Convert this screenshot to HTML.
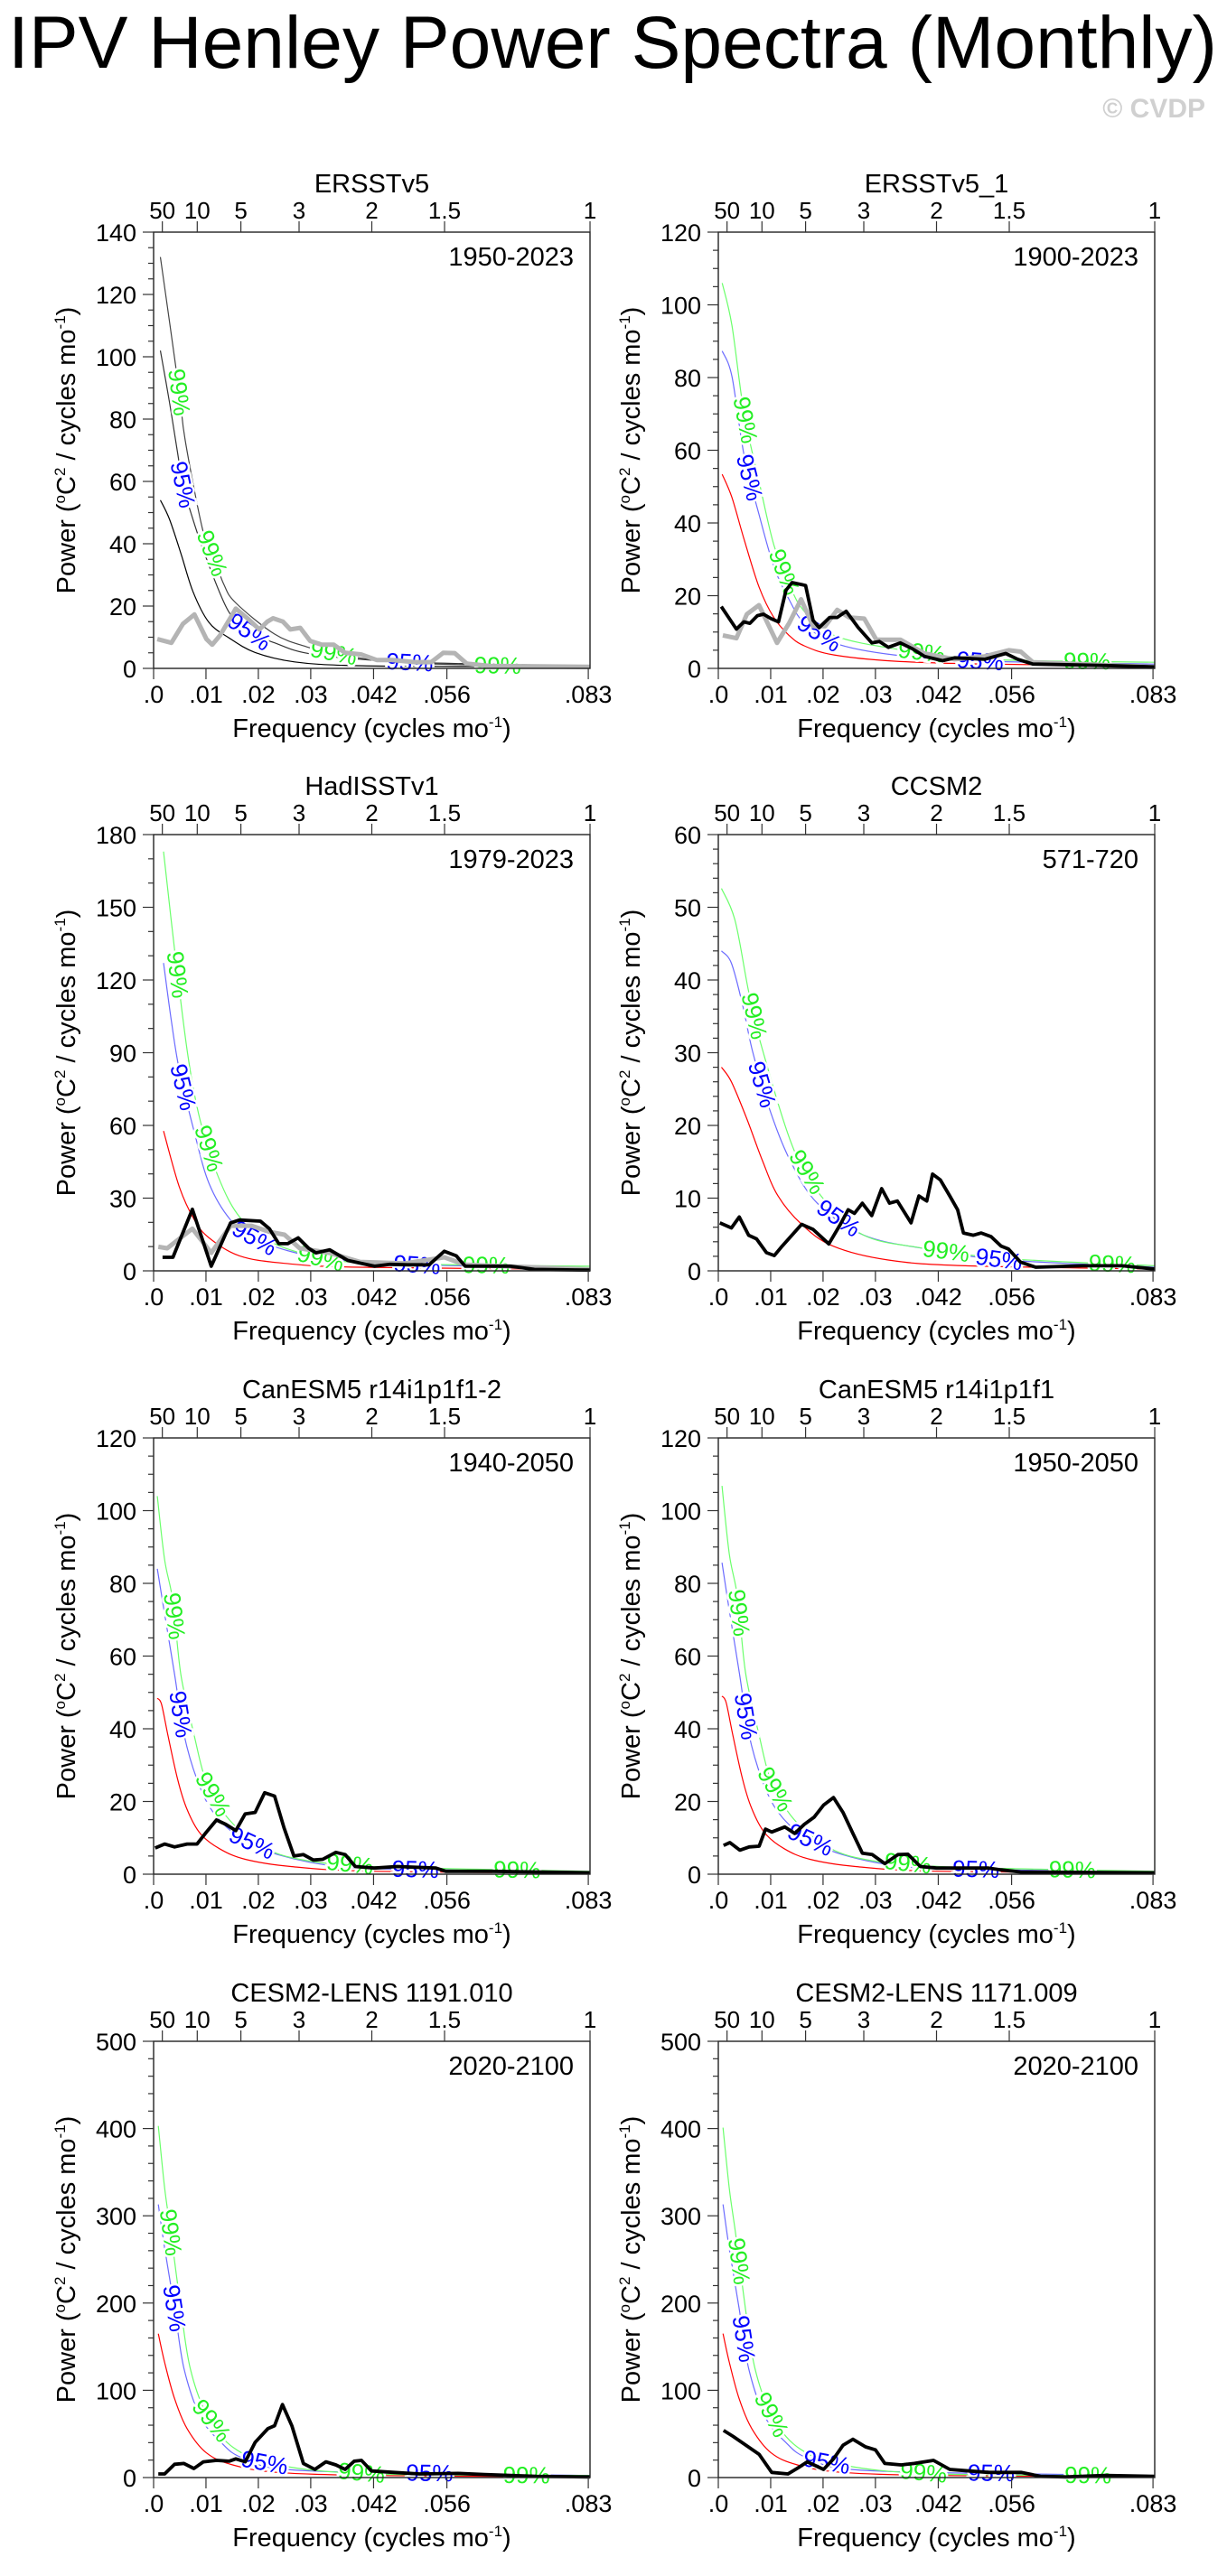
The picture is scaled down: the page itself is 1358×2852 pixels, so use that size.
<!DOCTYPE html>
<html><head><meta charset="utf-8">
<style>
html,body{margin:0;padding:0;background:#fff;}
svg{display:block;font-family:"Liberation Sans",Arial,sans-serif;}
</style></head>
<body>
<svg id="root" xmlns="http://www.w3.org/2000/svg" width="1358" height="2852" viewBox="0 0 1358 2852">
<rect x="0" y="0" width="1358" height="2852" fill="#fff"/>
<text x="9" y="75" font-size="82" textLength="1338" lengthAdjust="spacingAndGlyphs" fill="#000">IPV Henley Power Spectra (Monthly)</text>
<text x="1334" y="130" font-size="30" font-weight="bold" text-anchor="end" fill="#d0d0d0">© CVDP</text>
</svg>
<script>
// ===== Panel 1: ERSSTv5 =====
const p1RedF=[.0013,.003,.0052,.0075,.0105,.0142,.0194,.0269,.038,.06,.0833];
const p1RedV=[54,48,37,24.7,14.9,10,5.1,2.1,0.9,0.6,0.5];
const p1B95F=[.0013,.003,.0045,.0056,.0071,.0097,.0142,.0183,.0231,.0306,.0489,.0833];
const p1B95V=[102,85.7,70,59,50,37,18.6,11.8,8.2,4.5,2,0.8];
const p1B99F=[.0013,.0048,.006,.0093,.0112,.0134,.0157,.0231,.0291,.0344,.0456,.0657,.0833];
const p1B99V=[132,90,73.5,45,37,27,21,11,7,5,2,1,0.8];
const p1GrayF=[.0007,.0034,.0056,.0078,.0101,.0112,.0127,.0157,.0179,.0202,.0217,.0228,.0247,.0261,.028,.0299,.0321,.0344,.0366,.0396,.0426,.0456,.05,.053,.0553,.0575,.0598,.0642,.0833];
const p1GrayV=[9.4,8.2,14.3,17.3,9.4,7.6,10.6,19.2,16.1,12.5,15,16.1,15,12.5,13,8.8,7.6,7.6,5,4.5,2.7,2.7,2,2,5,4.9,1.5,0.8,0.5];
const p1LabF=[.0049,.0056,.0112,.0183,.0344,.0489,.0657];

// ===== Panel 2: ERSSTv5_1 =====
const p2CurF=[.00075,.0026,.0049,.0078,.0106,.0135,.0164,.0221,.0336,.0508,.0833];
const p2RedV=[53.4,47,35.6,22.3,14,9.1,6.2,3.7,2,1.2,0.7];
const p2B95V=[87.3,80.3,58.8,42.2,28.1,19,12.4,7,3.7,2,1.2];
const p2B99V=[106,94.3,70.3,51.3,34,23.2,15.7,9.1,5.4,2.5,1.7];
const p2BlackF=[.00057,.00345,.00489,.00603,.00747,.00862,.01006,.01149,.01293,.01408,.01667,.0181,.01925,.02126,.0227,.02442,.02672,.02931,.03075,.03247,.03477,.03707,.03937,.04282,.04511,.05086,.05488,.05718,.06006,.07385,.08333];
const p2BlackV=[17,10.8,12.8,12.4,14.5,14.9,13.7,12.8,21.5,23.6,22.8,13.2,11.2,14,14,15.7,11.2,7,7.4,5.8,7,5.4,3.3,2.1,2.9,2.5,4.1,2.5,1.2,0.8,0.4];
const p2GrayF=[.00086,.00345,.00546,.00776,.01121,.01351,.0158,.0181,.0204,.0227,.025,.02787,.03017,.03477,.03937,.04511,.05086,.05546,.05776,.06006,.08333];
const p2GrayV=[9.1,8.3,14.9,17.4,7,12.4,19,11.6,11.6,16.1,14,13.7,7.9,7.9,4.1,2.5,3.3,5,4.6,1.7,0.4];
const p2LabF=[.0052,.006,.0126,.0193,.0388,.05,.0704];

// ===== Panel 3: HadISSTv1 =====
const p3RedF=[.0019,.0049,.0078,.0106,.0164,.025,.0394,.0833];
const p3RedV=[57.7,34.7,21,13.6,6.2,3.1,1.5,0.6];
const p3B95F=[.0019,.0034,.0049,.0078,.0106,.0147,.0193,.025,.0336,.0509,.0833];
const p3B95V=[127,103,83,57,36,21,13.6,8.7,5,2.5,1.2];
const p3B99F=[.0019,.0042,.0066,.0089,.0124,.0164,.0221,.0279,.0336,.0509,.0833];
const p3B99V=[173,129,88,62,38.5,22.3,12.4,7.4,4.3,2.7,1.9];
const p3BlackF=[.0017,.0037,.0074,.011,.0147,.0164,.0204,.0221,.0239,.0256,.0276,.0296,.031,.0336,.0371,.0422,.0451,.0486,.0526,.0555,.0578,.0595,.0681,.0727,.0833];
const p3BlackV=[5.6,5.6,25.4,1.9,19.8,21,20.5,17.4,11.2,11.2,13.6,9.3,7.4,8.7,4.3,1.9,2.7,2.5,2.5,8.1,6.2,1.9,1.9,0.6,0.3];
const p3GrayF=[.0009,.0026,.0074,.011,.0147,.0187,.0221,.025,.0279,.0336,.0394,.0480,.0555,.0595,.0833];
const p3GrayV=[9.9,9.3,17.4,7.4,18.6,18.6,16.1,14.9,9.3,7.4,3.7,3.1,5.6,2.5,0.6];
const p3LabF=[.0046,.0057,.0106,.0193,.0319,.0503,.0635];

// ===== Panel 4: CCSM2 =====
const p4RedF=[.0006,.0025,.0054,.0084,.0114,.0159,.0219,.0323,.0472,.0833];
const p4RedV=[28,26,21,15.2,10.3,6.4,3.4,1.5,0.7,0.25];
const p4B95F=[.0006,.0025,.0047,.0066,.0099,.0137,.0189,.0278,.0398,.0547,.0833];
const p4B95V=[44,42.3,36.4,30,22,15.2,9.3,4.9,3,1.5,0.5];
const p4B99F=[.0006,.0032,.0058,.0084,.0144,.0204,.0278,.0383,.0547,.0833];
const p4B99V=[52.6,48.2,38.4,30.5,16.7,9.6,4.9,3.2,1.7,0.7];
const p4BlackF=[.0003,.0025,.004,.0058,.0073,.0092,.0107,.0122,.0159,.0181,.0211,.0233,.0248,.026,.0275,.0293,.0312,.0327,.0342,.0368,.0383,.0398,.0409,.0424,.0442,.0457,.0468,.0487,.0502,.0521,.054,.0554,.0577,.0606,.0696,.0771,.0833];
const p4BlackV=[6.6,5.9,7.4,4.9,4.4,2.5,2.1,3.4,6.4,5.7,3.7,6.4,8.4,7.9,9.3,7.6,11.3,9.3,9.6,6.6,10.3,9.6,13.3,12.5,10.3,8.4,5.2,4.9,5.2,4.7,3.4,3,1.2,0.5,0.7,0.7,0.25];
const p4LabF=[.0069,.0084,.017,.023,.0435,.0536,.0752];

// ===== Panel 5: CanESM5 r14i1p1f1-2 =====
const p5RedF=[.0007,.0015,.0027,.0046,.0064,.0089,.0126,.0175,.0262,.0422,.0833];
const p5RedV=[48.4,46.8,38.5,26,17.8,11.2,7,4.1,2.1,0.8,0.3];
const p5B95F=[.0007,.0021,.004,.0058,.0083,.0114,.0163,.0237,.036,.0546,.0833];
const p5B95V=[84,71.6,55,38.5,26,17,10.3,5.4,2,1.2,0.6];
const p5B99F=[.0007,.0021,.0037,.0052,.0077,.0101,.0138,.0188,.0262,.0422,.0833];
const p5B99V=[104,86.5,75,55,38.5,25.2,16.1,9.5,4.6,2.1,0.8];
const p5BlackF=[.0003,.0021,.004,.0064,.0083,.0101,.012,.0138,.0157,.0175,.0194,.0212,.0231,.0249,.0268,.0286,.0305,.0323,.0348,.0366,.0385,.0422,.0465,.0539,.0558,.0644,.0833];
const p5BlackV=[7.2,8.3,7.5,8.3,8.3,11.6,14.9,13.7,12,16.6,17,22.4,21.5,12.8,5,5.4,3.9,4.1,6,5.4,2.1,1.7,2.1,1.7,0.8,0.8,0.4];
const p5LabF=[.004,.0052,.0114,.0188,.0375,.05,.0694];

// ===== Panel 6: CanESM5 r14i1p1f1 =====
const p6RedF=[.0007,.0015,.0027,.0046,.0064,.0089,.0126,.0175,.0262,.0422,.0833];
const p6RedV=[49,47.2,38.8,26.3,18,11.3,7,4.1,2.1,0.8,0.3];
const p6B95F=[.0007,.0021,.004,.0058,.0083,.0114,.0163,.0237,.036,.0546,.0833];
const p6B95V=[85.7,72.5,55.5,38.8,26.2,17.1,10.4,5.4,2,1.2,0.6];
const p6B99F=[.0007,.0021,.0037,.0052,.0077,.0101,.0138,.0188,.0262,.0422,.0833];
const p6B99V=[106.8,88,76,55.5,38.8,25.4,16.2,9.5,4.6,2.1,0.8];
const p6BlackF=[.001,.0022,.0041,.0059,.0078,.009,.0102,.0127,.0146,.0164,.0183,.0201,.022,.0238,.0257,.0275,.0294,.0318,.0343,.0362,.0386,.0417,.0454,.0516,.054,.0578,.0833];
const p6BlackV=[7.9,8.7,6.6,7.5,7.7,12.4,11.6,13,11.2,13.7,15.7,19,21.1,17,11.2,5.8,5.4,2.9,5.4,5.5,2.1,1.7,1.7,1.7,1.2,0.6,0.4];
const p6LabF=[.004,.0053,.0109,.0176,.0362,.0492,.0676];

// ===== Panel 7: CESM2-LENS 1191.010 =====
const p7RedF=[.0009,.0021,.004,.0064,.0101,.0151,.0237,.0422,.0833];
const p7RedV=[164.8,132,90.5,56,28.3,14.5,5.9,2.4,0.7];
const p7B95F=[.0009,.0021,.004,.0058,.0089,.0126,.0175,.0299,.0833];
const p7B95V=[313,263,194,125,70,42,21.4,7.6,2.4];
const p7B99F=[.0009,.0021,.0033,.0052,.007,.0101,.0151,.0237,.0422,.0833];
const p7B99V=[403,332,281,194,125,73,35,14.5,4.1,2.4];
const p7BlackF=[.0009,.0021,.004,.0058,.0077,.0095,.012,.0144,.0157,.0175,.0194,.0218,.0231,.0246,.0264,.0286,.0308,.0329,.0348,.0366,.0383,.0397,.0416,.0459,.0508,.0582,.0632,.0731,.0833];
const p7BlackV=[4.1,4.1,15.2,16.2,10.4,18,19.7,18.7,21.4,18,40.4,56,59.4,83.6,59.4,16.2,9.3,18,14.5,9.3,18.7,19.7,7.6,5.9,4.1,4.8,3.5,1.4,0.7];
const p7LabF=[.0033,.004,.0111,.0212,.0397,.0527,.0712];

// ===== Panel 8: CESM2-LENS 1171.009 =====
const p8RedF=[.0009,.0021,.004,.0064,.0101,.0151,.0237,.0422,.0833];
const p8RedV=[165,132,90,56,28.3,14.5,5.9,2.4,0.7];
const p8B95F=[.0009,.0021,.004,.0058,.0089,.0126,.0175,.0299,.0833];
const p8B95V=[313,262,193,125,70,42,21.4,7.6,2.4];
const p8B99F=[.0009,.0021,.0033,.0052,.007,.0101,.0151,.0237,.0422,.0833];
const p8B99V=[401,331,280,193,125,73,35,14.5,4.1,2.4];
const p8BlackF=[.001,.0028,.0053,.0078,.0102,.0133,.0152,.017,.0201,.022,.0238,.0257,.0281,.03,.0318,.0349,.0374,.0411,.0442,.0479,.0516,.0553,.0578,.0615,.0664,.0738,.0833];
const p8BlackV=[54,47.3,37,26.6,5.9,4.1,11,18,9.3,21.4,37,43.9,35.2,31.8,16.2,14.5,16.2,19.7,9.3,7.6,5.9,5.9,5.9,1.4,0.7,2.4,1.4];
const p8LabF=[.004,.0049,.0102,.0207,.0392,.0521,.0706];

// Axis tick definitions
const bottomTickF=[0,.01,.02,.03,.042,.056,.083];
const bottomTickLab=[".0",".01",".02",".03",".042",".056",".083"];
const topPeriods=[50,10,5,3,2,1.5,1];
const topPeriodLab=["50","10","5","3","2","1.5","1"];
const labelLevels=["99%","95%","99%","95%","99%","95%","99%"];

const panels=[
 {id:"ersstv5",title:"ERSSTv5",years:"1950-2023",x0:170,y0:257,ymax:140,major:20,minor:5,
  red:[p1RedF,p1RedV],b95:[p1B95F,p1B95V],b99:[p1B99F,p1B99V],gray:[p1GrayF,p1GrayV],black:null,lab:p1LabF,mono:true},
 {id:"ersstv5-1",title:"ERSSTv5_1",years:"1900-2023",x0:795,y0:257,ymax:120,major:20,minor:5,
  red:[p2CurF,p2RedV],b95:[p2CurF,p2B95V],b99:[p2CurF,p2B99V],gray:[p2GrayF,p2GrayV],black:[p2BlackF,p2BlackV],lab:p2LabF},
 {id:"hadisstv1",title:"HadISSTv1",years:"1979-2023",x0:170,y0:924,ymax:180,major:30,minor:10,
  red:[p3RedF,p3RedV],b95:[p3B95F,p3B95V],b99:[p3B99F,p3B99V],gray:[p3GrayF,p3GrayV],black:[p3BlackF,p3BlackV],lab:p3LabF},
 {id:"ccsm2",title:"CCSM2",years:"571-720",x0:795,y0:924,ymax:60,major:10,minor:2,
  red:[p4RedF,p4RedV],b95:[p4B95F,p4B95V],b99:[p4B99F,p4B99V],gray:null,black:[p4BlackF,p4BlackV],lab:p4LabF},
 {id:"canesm5-r14-2",title:"CanESM5 r14i1p1f1-2",years:"1940-2050",x0:170,y0:1592,ymax:120,major:20,minor:5,
  red:[p5RedF,p5RedV],b95:[p5B95F,p5B95V],b99:[p5B99F,p5B99V],gray:null,black:[p5BlackF,p5BlackV],lab:p5LabF},
 {id:"canesm5-r14",title:"CanESM5 r14i1p1f1",years:"1950-2050",x0:795,y0:1592,ymax:120,major:20,minor:5,
  red:[p6RedF,p6RedV],b95:[p6B95F,p6B95V],b99:[p6B99F,p6B99V],gray:null,black:[p6BlackF,p6BlackV],lab:p6LabF},
 {id:"cesm2-lens-1191",title:"CESM2-LENS 1191.010",years:"2020-2100",x0:170,y0:2260,ymax:500,major:100,minor:20,
  red:[p7RedF,p7RedV],b95:[p7B95F,p7B95V],b99:[p7B99F,p7B99V],gray:null,black:[p7BlackF,p7BlackV],lab:p7LabF},
 {id:"cesm2-lens-1171",title:"CESM2-LENS 1171.009",years:"2020-2100",x0:795,y0:2260,ymax:500,major:100,minor:20,
  red:[p8RedF,p8RedV],b95:[p8B95F,p8B95V],b99:[p8B99F,p8B99V],gray:null,black:[p8BlackF,p8BlackV],lab:p8LabF}
];

const NS="http://www.w3.org/2000/svg";
const root=document.getElementById("root");
const W=483,H=483,FMAX=0.08333;
function mk(tag,parent){const e=document.createElementNS(NS,tag);parent.appendChild(e);return e;}
function interp(F,V,f){
  if(f<=F[0])return V[0];
  for(let i=1;i<F.length;i++){if(f<=F[i]){const t=(f-F[i-1])/(F[i]-F[i-1]);return V[i-1]+t*(V[i]-V[i-1]);}}
  return V[V.length-1];
}
function smoothPath(pts){
  let d="M"+pts[0][0].toFixed(1)+","+pts[0][1].toFixed(1);
  for(let i=0;i<pts.length-1;i++){
    const p0=pts[Math.max(0,i-1)],p1=pts[i],p2=pts[i+1],p3=pts[Math.min(pts.length-1,i+2)];
    const c1x=p1[0]+(p2[0]-p0[0])/6,c1y=p1[1]+(p2[1]-p0[1])/6;
    const c2x=p2[0]-(p3[0]-p1[0])/6,c2y=p2[1]-(p3[1]-p1[1])/6;
    d+=" C"+c1x.toFixed(1)+","+c1y.toFixed(1)+" "+c2x.toFixed(1)+","+c2y.toFixed(1)+" "+p2[0].toFixed(1)+","+p2[1].toFixed(1);
  }
  return d;
}

panels.forEach(p=>{
  const xs=f=>p.x0+f/FMAX*W;
  const ys=v=>p.y0+H-Math.min(v,p.ymax)/p.ymax*H;
  const g=mk("g",root);
  
  
  const cx=p.x0+W/2;

  const t=mk("text",g);
  
  
  t.setAttribute("x",cx);t.setAttribute("y",p.y0-44);t.setAttribute("font-size","29");t.setAttribute("text-anchor","middle");
  t.textContent=p.title;

  const yr=mk("text",g);
  
  
  yr.setAttribute("x",p.x0+W-18);yr.setAttribute("y",p.y0+37);yr.setAttribute("font-size","29");yr.setAttribute("text-anchor","end");
  yr.textContent=p.years;

  const curves=[[p.red,p.mono?"#000":"#ff0000","red-noise-curve"],[p.b95,p.mono?"#333":"#6b6bff","confidence-95-curve"],[p.b99,p.mono?"#444":"#6bff6b","confidence-99-curve"]];
  curves.forEach(c=>{
    const pts=c[0][0].map((f,i)=>[xs(f),ys(c[0][1][i])]);
    const pa=mk("path",g);
    
    
    pa.setAttribute("d",smoothPath(pts));pa.setAttribute("fill","none");pa.setAttribute("stroke",c[1]);pa.setAttribute("stroke-width","1.2");
  });

  p.lab.forEach((f,i)=>{
    const lvl=labelLevels[i];
    const cur=lvl==="99%"?p.b99:p.b95;
    const px=xs(f),py=ys(interp(cur[0],cur[1],f));
    const xa=xs(f-0.0006),ya=ys(interp(cur[0],cur[1],f-0.0006));
    const xb=xs(f+0.0006),yb=ys(interp(cur[0],cur[1],f+0.0006));
    const ang=Math.atan2(yb-ya,xb-xa)*180/Math.PI;
    const lt=mk("text",g);
    
    
    lt.setAttribute("x",px);lt.setAttribute("y",py+9);lt.setAttribute("font-size","26");lt.setAttribute("text-anchor","middle");
    lt.setAttribute("fill",lvl==="99%"?"#22ee22":"#0000ff");
    lt.setAttribute("stroke","#fff");lt.setAttribute("stroke-width","5");lt.setAttribute("paint-order","stroke");
    lt.setAttribute("transform","rotate("+ang.toFixed(1)+" "+px.toFixed(1)+" "+py.toFixed(1)+")");
    lt.textContent=lvl;
  });

  if(p.gray){
    const pl=mk("polyline",g);
    
    
    pl.setAttribute("points",p.gray[0].map((f,i)=>xs(f).toFixed(1)+","+ys(p.gray[1][i]).toFixed(1)).join(" "));
    pl.setAttribute("fill","none");pl.setAttribute("stroke","#b4b4b4");pl.setAttribute("stroke-width","5");pl.setAttribute("stroke-linejoin","round");
  }
  if(p.black){
    const pl=mk("polyline",g);
    
    
    pl.setAttribute("points",p.black[0].map((f,i)=>xs(f).toFixed(1)+","+ys(p.black[1][i]).toFixed(1)).join(" "));
    pl.setAttribute("fill","none");pl.setAttribute("stroke","#000");pl.setAttribute("stroke-width","3.8");pl.setAttribute("stroke-linejoin","round");
  }

  const fr=mk("rect",g);
  
  
  fr.setAttribute("x",p.x0);fr.setAttribute("y",p.y0);fr.setAttribute("width",W);fr.setAttribute("height",H);
  fr.setAttribute("fill","none");fr.setAttribute("stroke","#222");fr.setAttribute("stroke-width","1.4");

  for(let v=0;v<=p.ymax+1e-9;v+=p.minor){
    const isMaj=Math.abs(v/p.major-Math.round(v/p.major))<1e-6;
    const tk=mk("line",g);
    
    
    tk.setAttribute("x1",p.x0-(isMaj?12:6));tk.setAttribute("x2",p.x0);tk.setAttribute("y1",ys(v));tk.setAttribute("y2",ys(v));
    tk.setAttribute("stroke","#333");tk.setAttribute("stroke-width","1.2");
    if(isMaj){
      const tl=mk("text",g);
      
      
      tl.setAttribute("x",p.x0-19);tl.setAttribute("y",ys(v)+10);tl.setAttribute("font-size","27");tl.setAttribute("text-anchor","end");
      tl.textContent=String(Math.round(v));
    }
  }
  bottomTickF.forEach((f,i)=>{
    const tk=mk("line",g);
    
    
    tk.setAttribute("x1",xs(f));tk.setAttribute("x2",xs(f));tk.setAttribute("y1",p.y0+H);tk.setAttribute("y2",p.y0+H+12);
    tk.setAttribute("stroke","#333");tk.setAttribute("stroke-width","1.2");
    const tl=mk("text",g);
    
    
    tl.setAttribute("x",xs(f));tl.setAttribute("y",p.y0+H+38);tl.setAttribute("font-size","27");tl.setAttribute("text-anchor","middle");
    tl.textContent=bottomTickLab[i];
  });
  topPeriods.forEach((P,i)=>{
    const f=1/(12*P);
    const tk=mk("line",g);
    
    
    tk.setAttribute("x1",xs(f));tk.setAttribute("x2",xs(f));tk.setAttribute("y1",p.y0);tk.setAttribute("y2",p.y0-12);
    tk.setAttribute("stroke","#333");tk.setAttribute("stroke-width","1.2");
    const tl=mk("text",g);
    
    
    tl.setAttribute("x",xs(f));tl.setAttribute("y",p.y0-15);tl.setAttribute("font-size","26");tl.setAttribute("text-anchor","middle");
    tl.textContent=topPeriodLab[i];
  });

  const xt=mk("text",g);
  
  
  xt.setAttribute("x",cx);xt.setAttribute("y",p.y0+H+76);xt.setAttribute("font-size","29");xt.setAttribute("text-anchor","middle");
  xt.innerHTML='Frequency (cycles mo<tspan font-size="17" dy="-11">-1</tspan><tspan dy="11">)</tspan>';

  const ytx=p.x0-97, yty=p.y0+H/2;
  const yt=mk("text",g);
  
  
  yt.setAttribute("x",ytx);yt.setAttribute("y",yty+10);yt.setAttribute("font-size","29");yt.setAttribute("text-anchor","middle");
  yt.setAttribute("transform","rotate(-90 "+ytx+" "+yty+")");
  yt.innerHTML='Power (<tspan font-size="17" dy="-11">o</tspan><tspan dy="11">C</tspan><tspan font-size="17" dy="-11">2</tspan><tspan dy="11"> / cycles mo</tspan><tspan font-size="17" dy="-11">-1</tspan><tspan dy="11">)</tspan>';
});
</script>
</body></html>
